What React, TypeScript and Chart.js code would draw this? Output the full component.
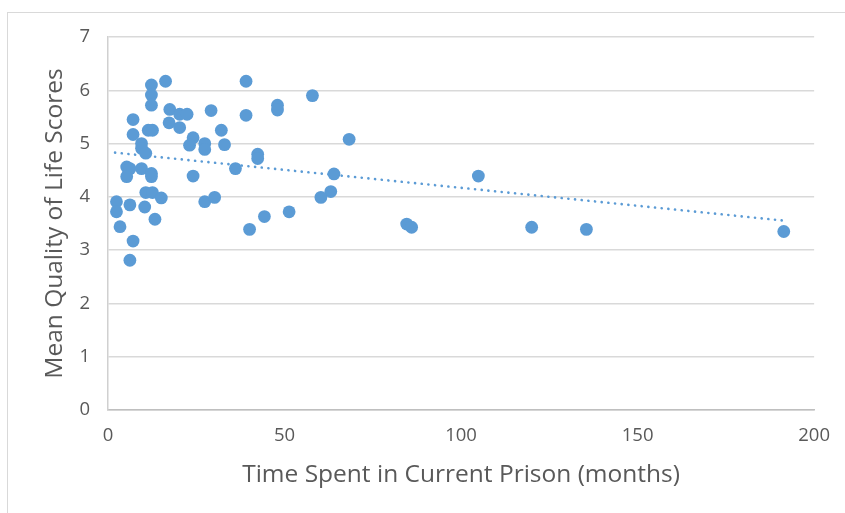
import React, { useEffect, useRef } from "react";
import { Chart, registerables } from "chart.js";

Chart.register(...registerables);

const timeMonths: number[] = [
  12.3, 16.3, 12.3, 12.3, 17.5, 20.3, 22.4, 17.3, 20.3, 7.1,
  7.1, 11.4, 12.6, 29.2, 39.1, 39.1, 32.1, 24.1, 23.1, 27.4,
  27.4, 33.0, 9.5, 9.5, 10.7, 5.3, 6.2, 5.3, 9.5, 12.3,
  12.3, 24.1, 36.1, 42.4, 42.4, 10.7, 12.6, 15.1, 2.4, 2.4,
  6.2, 10.4, 27.4, 30.2, 3.4, 13.3, 7.1, 6.2, 40.1, 44.3,
  48.0, 48.0, 57.9, 68.3, 64.0, 63.1, 60.3, 51.3, 104.9, 84.6,
  86.0, 120.0, 135.5, 191.4,
];

const qolScores: number[] = [
  6.10, 6.17, 5.91, 5.72, 5.64, 5.55, 5.55, 5.39, 5.30, 5.45,
  5.17, 5.25, 5.25, 5.62, 6.17, 5.53, 5.25, 5.11, 4.97, 5.00,
  4.89, 4.98, 5.00, 4.91, 4.82, 4.56, 4.53, 4.38, 4.53, 4.44,
  4.38, 4.39, 4.53, 4.80, 4.72, 4.08, 4.08, 3.98, 3.91, 3.72,
  3.85, 3.81, 3.91, 3.99, 3.44, 3.58, 3.17, 2.81, 3.39, 3.63,
  5.72, 5.63, 5.90, 5.08, 4.43, 4.10, 3.99, 3.72, 4.39, 3.49,
  3.43, 3.43, 3.39, 3.35,
];

const trendX: number[] = [2, 192];
const trendY: number[] = [4.83, 3.55];

const xTicks: number[] = [0, 50, 100, 150, 200];
const yTicks: number[] = [0, 1, 2, 3, 4, 5, 6, 7];

const xTitle = "Time Spent in Current Prison (months)";
const yTitle = "Mean Quality of Life Scores";

const BLUE = "#5B9BD5";
const TEXT = "#595959";
const FONT = "'Open Sans', Lato, sans-serif";

export default function App() {
  const ref = useRef<HTMLCanvasElement | null>(null);

  useEffect(() => {
    if (!ref.current) return;
    const chart = new Chart(ref.current, {
      type: "scatter",
      data: {
        datasets: [
          {
            type: "scatter",
            label: "Scores",
            data: timeMonths.map((x, i) => ({ x, y: qolScores[i] })),
            backgroundColor: BLUE,
            borderColor: BLUE,
            pointRadius: 6.4,
            pointBorderWidth: 0,
            order: 1,
          },
          {
            type: "line",
            label: "Trend",
            data: trendX.map((x, i) => ({ x, y: trendY[i] })),
            borderColor: BLUE,
            borderWidth: 2.6,
            borderDash: [0.1, 6.6],
            borderCapStyle: "round",
            pointRadius: 0,
            fill: false,
            order: 2,
          } as any,
        ],
      },
      options: {
        animation: false,
        responsive: false,
        devicePixelRatio: 1,
        layout: { padding: { left: 0, top: 37, right: 29, bottom: 0 } },
        plugins: {
          legend: { display: false },
          tooltip: { enabled: false },
        },
        scales: {
          x: {
            type: "linear",
            min: 0,
            max: 200,
            afterBuildTicks: (s: any) => {
              s.ticks = xTicks.map((v) => ({ value: v }));
            },
            afterFit: (s: any) => {
              s.height = 103;
            },
            grid: { display: false, drawTicks: false },
            border: { display: true, color: "#bfbfbf", width: 1.5 },
            ticks: {
              color: TEXT,
              padding: 15,
              font: { family: FONT, size: 18.5 },
              maxRotation: 0,
            },
            title: {
              display: true,
              text: xTitle,
              color: TEXT,
              font: { family: FONT, size: 24.5 },
              padding: { top: 0, bottom: 23 },
            },
          },
          y: {
            type: "linear",
            min: 0,
            max: 7,
            afterBuildTicks: (s: any) => {
              s.ticks = yTicks.map((v) => ({ value: v }));
            },
            afterFit: (s: any) => {
              s.width = 108;
            },
            grid: { color: "#d9d9d9", lineWidth: 1.5, drawTicks: false },
            border: { display: true, color: "#d0d0d0", width: 1.5 },
            ticks: {
              color: TEXT,
              padding: 18,
              font: { family: FONT, size: 18.5 },
            },
            title: {
              display: true,
              text: yTitle,
              color: TEXT,
              font: { family: FONT, size: 24.5 },
              padding: { top: 40, bottom: 0 },
            },
          },
        },
      },
    });
    return () => chart.destroy();
  }, []);

  return (
    <div
      style={{
        position: "fixed",
        left: 0,
        top: 0,
        width: 845,
        height: 513,
        overflow: "hidden",
        background: "#ffffff",
      }}
    >
      <div
        style={{
          position: "absolute",
          left: 7,
          top: 12,
          width: 900,
          height: 600,
          borderTop: "1.5px solid #d9d9d9",
          borderLeft: "1.5px solid #d9d9d9",
        }}
      />
      <canvas
        ref={ref}
        width={845}
        height={513}
        style={{ position: "absolute", left: 0, top: 0, width: 845, height: 513 }}
      />
    </div>
  );
}
